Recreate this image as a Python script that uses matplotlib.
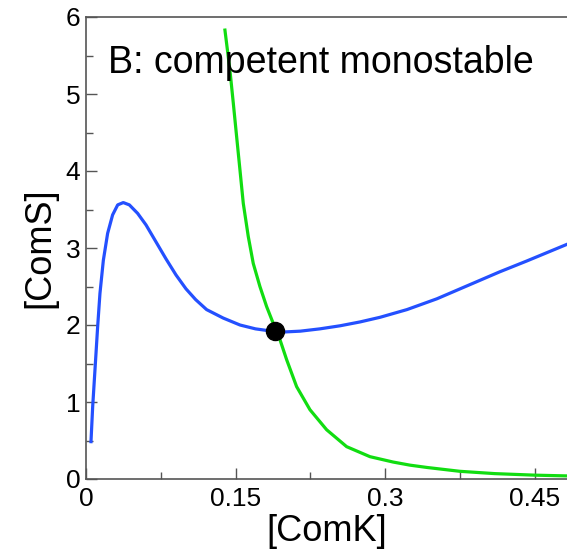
import matplotlib
matplotlib.use('Agg')
from matplotlib import pyplot as plt
from matplotlib.ticker import MultipleLocator

plt.rcParams['font.family'] = ['Liberation Sans', 'DejaVu Sans']

# ComK nullcline (blue)
blue_x = [0.0050, 0.0067, 0.0094, 0.0117, 0.0140, 0.0174, 0.0217, 0.0267, 0.0318, 0.0374,
          0.0435, 0.0518, 0.0602, 0.0702, 0.0802, 0.0903, 0.1003, 0.1100, 0.121, 0.1377,
          0.1545, 0.1700, 0.181, 0.1996, 0.215, 0.2347, 0.255, 0.275, 0.295, 0.322,
          0.352, 0.388, 0.415, 0.442, 0.483]
blue_y = [0.485, 0.94, 1.50, 1.98, 2.41, 2.84, 3.19, 3.43, 3.56, 3.59,
          3.56, 3.45, 3.30, 3.08, 2.86, 2.65, 2.47, 2.33, 2.20, 2.09,
          2.00, 1.95, 1.93, 1.91, 1.92, 1.95, 1.99, 2.04, 2.10, 2.20,
          2.34, 2.54, 2.69, 2.83, 3.05]

# ComS nullcline (green)
green_x = [0.1394, 0.1444, 0.1478, 0.1511, 0.1545, 0.1578, 0.1628, 0.1678, 0.1745, 0.1812,
           0.1879, 0.1946, 0.2013, 0.2113, 0.2247, 0.2414, 0.2615, 0.2849, 0.3082, 0.325,
           0.342, 0.375, 0.41, 0.45, 0.483]
green_y = [5.83, 5.31, 4.88, 4.45, 4.01, 3.58, 3.15, 2.80, 2.50, 2.24,
           2.02, 1.81, 1.55, 1.20, 0.90, 0.64, 0.42, 0.29, 0.22, 0.18,
           0.15, 0.10, 0.07, 0.05, 0.04]

# stable fixed point
fixed_x = [0.19]
fixed_y = [1.92]

fig = plt.figure(figsize=(5.67, 5.52), dpi=100)
ax = fig.add_axes([86/567, 73/552, 1 - 86/567, 462/552])

ax.plot(blue_x, blue_y, color='#2450ff', linewidth=2.3, solid_joinstyle='round')
ax.plot(green_x, green_y, color='#11dd11', linewidth=2.3, solid_joinstyle='round')
ax.plot(fixed_x, fixed_y, 'o', color='black', markersize=13, zorder=5)

ax.set_xlim(0, 0.4826)
ax.set_ylim(0, 6)
ax.xaxis.set_minor_locator(MultipleLocator(0.075))
ax.yaxis.set_major_locator(MultipleLocator(1))
ax.yaxis.set_minor_locator(MultipleLocator(0.5))
ax.set_xticks([0, 0.15, 0.3, 0.45])
ax.set_xticklabels(['0', '0.15', '0.3', '0.45'])
ax.tick_params(which='major', direction='in', length=8, width=1, color='#555555', labelsize=19, pad=6)
ax.tick_params(which='minor', direction='in', length=5, width=1, color='#555555')
ax.tick_params(axis='y', pad=4)

for s in ['left', 'bottom', 'top']:
    ax.spines[s].set_color('#555555')
    ax.spines[s].set_linewidth(1.2)
ax.spines['right'].set_visible(False)

ax.set_xlabel('[ComK]', fontsize=26, labelpad=2)
ax.set_ylabel('[ComS]', fontsize=26, labelpad=6)
ax.text(0.0221, 5.27, 'B: competent monostable', fontsize=27, va='baseline', ha='left')

plt.savefig('out.png', dpi=100)
